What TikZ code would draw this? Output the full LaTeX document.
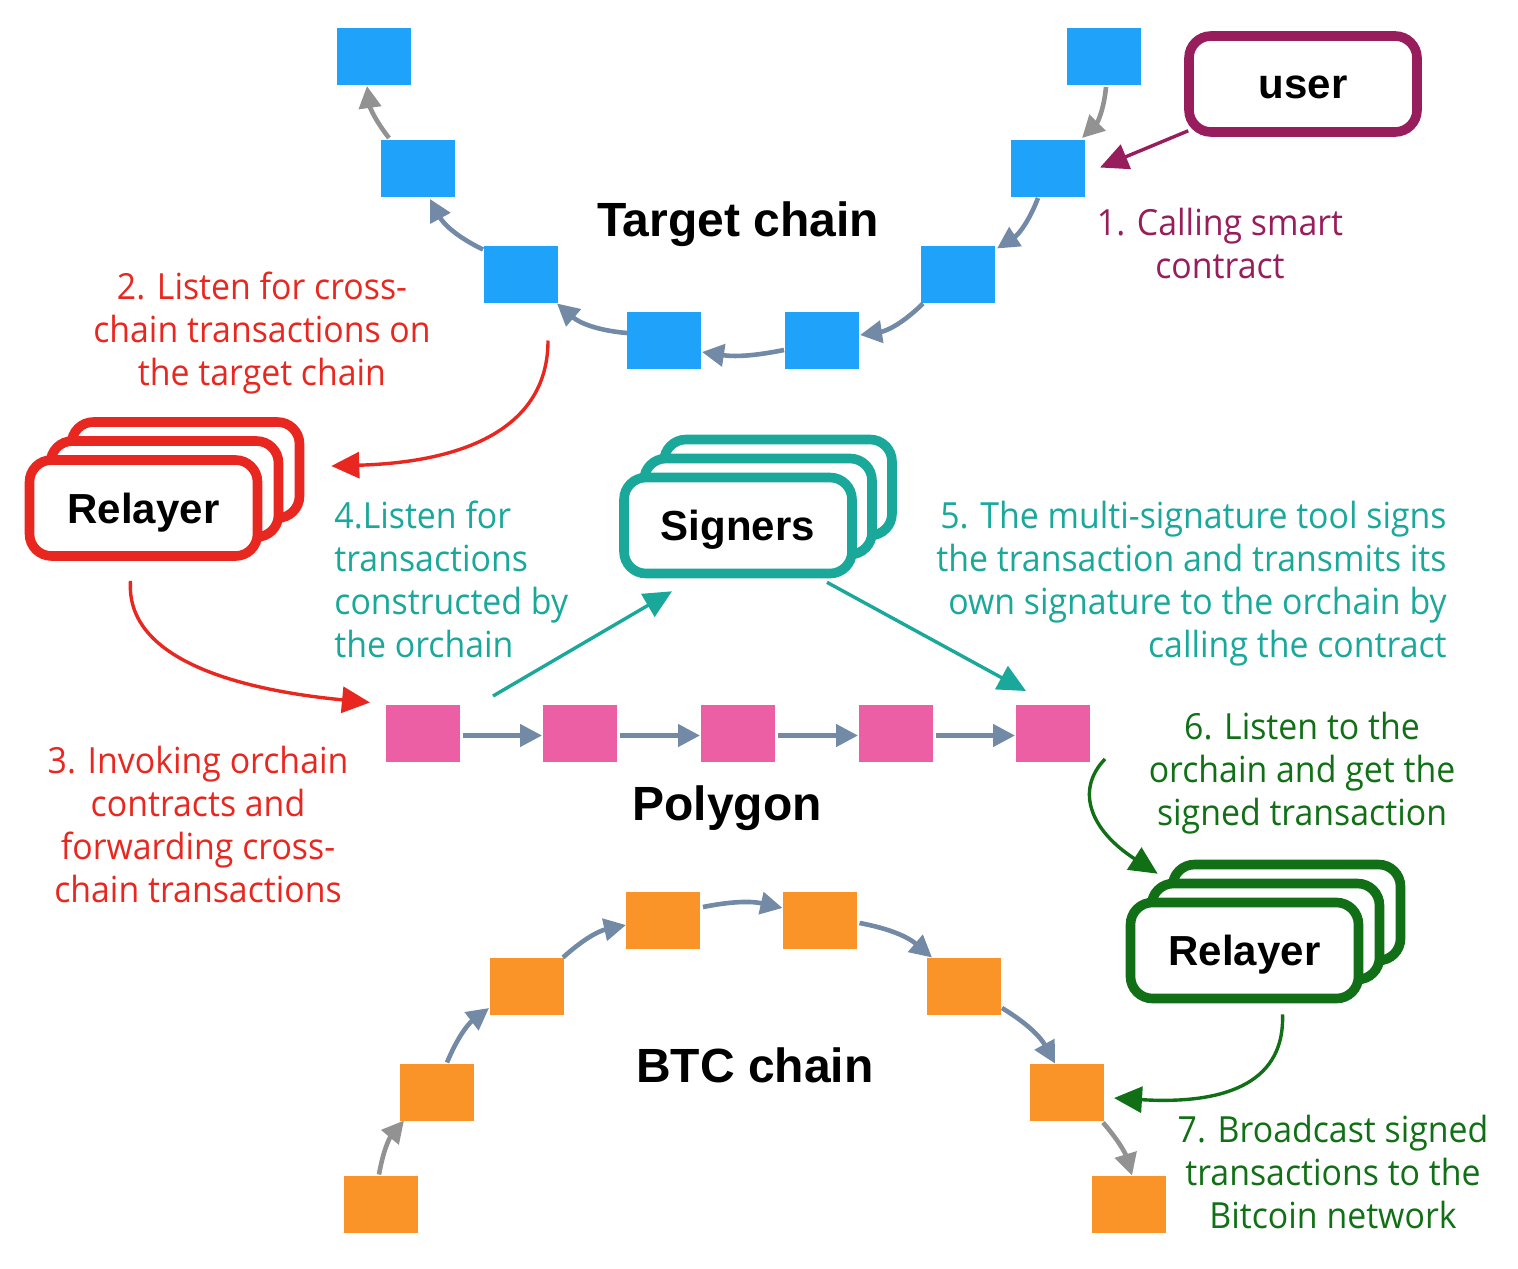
\documentclass[tikz,border=0pt]{standalone}
\usepackage{fontspec}
\usetikzlibrary{arrows.meta,calc}
\newfontfamily\labfont[FakeStretch=0.94]{Open Sans}
\newfontfamily\ttlfont{Liberation Sans}
\definecolor{cblue}{RGB}{30,162,250}
\definecolor{cpink}{RGB}{236,95,165}
\definecolor{corange}{RGB}{251,148,40}
\definecolor{cslate}{RGB}{114,138,166}
\definecolor{cgray}{RGB}{146,146,146}
\definecolor{cpurple}{RGB}{152,29,92}
\definecolor{cred}{RGB}{232,40,32}
\definecolor{cteal}{RGB}{26,168,154}
\definecolor{cgreen}{RGB}{17,112,22}
\begin{document}
\begin{tikzpicture}[x=0.5pt,y=-0.5pt,
  blk/.style={minimum width=37pt,minimum height=28.5pt,inner sep=0pt,outer sep=0pt},
  bsq/.style={blk,fill=cblue},
  psq/.style={blk,fill=cpink},
  osq/.style={blk,fill=corange},
  chainarr/.style={draw=cslate,line width=2.3pt,-{Triangle[length=11pt,width=11pt]}},
  grayarr/.style={chainarr,draw=cgray},
  boxst/.style={draw,fill=white,line width=4.8pt,rounded corners=11pt,minimum width=114pt,minimum height=48pt,inner sep=0pt,text depth=0pt,font=\ttlfont\bfseries\fontsize{21}{25}\selectfont},
  colarr/.style={line width=1.7pt,-{Triangle[length=14pt,width=13pt]}},
  lab/.style={font=\labfont\fontsize{18}{21.5}\selectfont,inner sep=0pt},
  ttl/.style={font=\ttlfont\bfseries\fontsize{24}{28}\selectfont,inner sep=0pt,text depth=0pt}
]
\useasboundingbox (0,0) rectangle (1518,1268);

% Target chain
\node[bsq] (T1) at (374,56.5) {};
\node[bsq] (T2) at (418,168.5) {};
\node[bsq] (T3) at (521,274) {};
\node[bsq] (T4) at (664,340) {};
\node[bsq] (T5) at (822,340) {};
\node[bsq] (T6) at (958,274) {};
\node[bsq] (T7) at (1048,168.5) {};
\node[bsq] (T8) at (1104,56.5) {};

\draw[grayarr] ($(T8.south)+(2,2)$) to[bend left=20] ($(T7.north)+(34,-2)$);
\draw[chainarr] ($(T7.south)+(-10,1)$) to[bend left=18] ($(T6.north east)+(2,3)$);
\draw[chainarr] ($(T6.south west)+(2,1)$) to[bend left=18] ($(T5.east)+(1,-5)$);
\draw[chainarr] ($(T5.west)+(-1,10)$) to[bend left=10] ($(T4.east)+(1,12)$);
\draw[chainarr] ($(T4.west)+(0,-7)$) to[bend left=18] ($(T3.south east)+(-1,1)$);
\draw[chainarr] ($(T3.north west)+(-1,4)$) to[bend left=18] ($(T2.south)+(12,2)$);
\draw[grayarr] ($(T2.north)+(-29,-2)$) to[bend left=15] ($(T1.south)+(-7,1)$);

\node[ttl] (tc) at (738,219) {Target chain};

% user
\node[boxst,draw=cpurple,text height=14pt] (user) at (1303,84) {user};
\draw[colarr,draw=cpurple] ($(user.south west)+(4,-6)$) -- ($(T7.east)+(15,-1)$);
\node[lab,text=cpurple,align=center] (l1) at (1220,243) {1. Calling smart\\contract};

% label 2 and red relayer
\node[lab,text=cred,align=center] (l2) at (262,333) {2. Listen for cross-\\chain transactions on\\the target chain};
\node[boxst,draw=cred] (relA3) at (185.5,470) {};
\node[boxst,draw=cred] (relA2) at (164.5,489) {};
\node[boxst,draw=cred] (relA) at (143.5,508) {Relayer};
\draw[colarr,draw=cred] ($(T3.south)+(27,38)$) .. controls (548,425) and (470,462) .. ($(relA.east)+(69,-42)$);

% Polygon
\node[psq] (P1) at (423,733.5) {};
\node[psq] (P2) at (580,733.5) {};
\node[psq] (P3) at (738,733.5) {};
\node[psq] (P4) at (896,733.5) {};
\node[psq] (P5) at (1053,733.5) {};
\draw[chainarr] ($(P1.east)+(3,2)$) -- ($(P2.west)+(-1,2)$);
\draw[chainarr] ($(P2.east)+(3,2)$) -- ($(P3.west)+(-1,2)$);
\draw[chainarr] ($(P3.east)+(3,2)$) -- ($(P4.west)+(-1,2)$);
\draw[chainarr] ($(P4.east)+(3,2)$) -- ($(P5.west)+(-1,2)$);
\node[ttl] (pg) at (727,803) {Polygon};

\draw[colarr,draw=cred] ($(relA.south)+(-13,20)$) .. controls (125,660) and (240,690) .. ($(P1.west)+(-16,-31)$);
\node[lab,text=cred,align=center] (l3) at (198,824) {3. Invoking orchain\\contracts and\\forwarding cross-\\chain transactions};

% Signers
\node[boxst,draw=cteal] (sig3) at (778,487.5) {};
\node[boxst,draw=cteal] (sig2) at (758,506.5) {};
\node[boxst,draw=cteal] (sig) at (738,525.5) {Signers};
\draw[colarr,draw=cteal] ($(P1.north)+(70,-9)$) -- ($(sig.south)+(-66,13)$);
\draw[colarr,draw=cteal] ($(sig.south)+(89,4)$) -- ($(P5.north)+(-27,-14)$);
\node[lab,text=cteal,align=left,anchor=west] (l4) at (334,579) {4.Listen for\\transactions\\constructed by\\the orchain};
\node[lab,text=cteal,align=right,anchor=east] (l5) at (1447,584) {5. The multi-signature tool signs\\the transaction and transmits its\\own signature to the orchain by\\calling the contract};

% green relayer
\node[boxst,draw=cgreen] (relB3) at (1286.5,912.5) {};
\node[boxst,draw=cgreen] (relB2) at (1265.5,931.5) {};
\node[boxst,draw=cgreen] (relB) at (1244.5,950.5) {Relayer};
\node[lab,text=cgreen,align=center] (l6) at (1302,773) {6. Listen to the\\orchain and get the\\signed transaction};
\draw[colarr,draw=cgreen] ($(P5.south east)+(15,-3)$) .. controls (1075,790) and (1090,830) .. ($(relB.north west)+(32,-24)$);

% BTC chain
\node[osq] (B1) at (381,1204) {};
\node[osq] (B2) at (437,1092) {};
\node[osq] (B3) at (527,986) {};
\node[osq] (B4) at (663,920) {};
\node[osq] (B5) at (819.5,920) {};
\node[osq] (B6) at (964,986) {};
\node[osq] (B7) at (1067,1092) {};
\node[osq] (B8) at (1129,1204) {};
\draw[grayarr] ($(B1.north)+(-2,-1)$) to[bend left=15] ($(B2.south west)+(4,0)$);
\draw[chainarr] ($(B2.north)+(10,-1)$) to[bend left=15] ($(B3.west)+(-1,22)$);
\draw[chainarr] ($(B3.north east)+(-1,0)$) to[bend left=15] ($(B4.west)+(0,5)$);
\draw[chainarr] ($(B4.east)+(3,-13)$) to[bend left=12] ($(B5.west)+(0,-12)$);
\draw[chainarr] ($(B5.east)+(3,3)$) to[bend left=15] ($(B6.north west)+(5,0)$);
\draw[chainarr] ($(B6.east)+(1,22)$) to[bend left=15] ($(B7.north)+(-12,0)$);
\draw[grayarr] ($(B7.south east)+(-1,2)$) to[bend left=12] ($(B8.north)+(3,0)$);
\node[ttl] (btc) at (755,1065) {BTC chain};

\draw[colarr,draw=cgreen] ($(relB.south)+(38,11)$) .. controls (1285,1080) and (1230,1105) .. ($(B7.east)+(10,6)$);
\node[lab,text=cgreen,align=center] (l7) at (1333,1172) {7. Broadcast signed\\transactions to the\\Bitcoin network};
\end{tikzpicture}
\end{document}
